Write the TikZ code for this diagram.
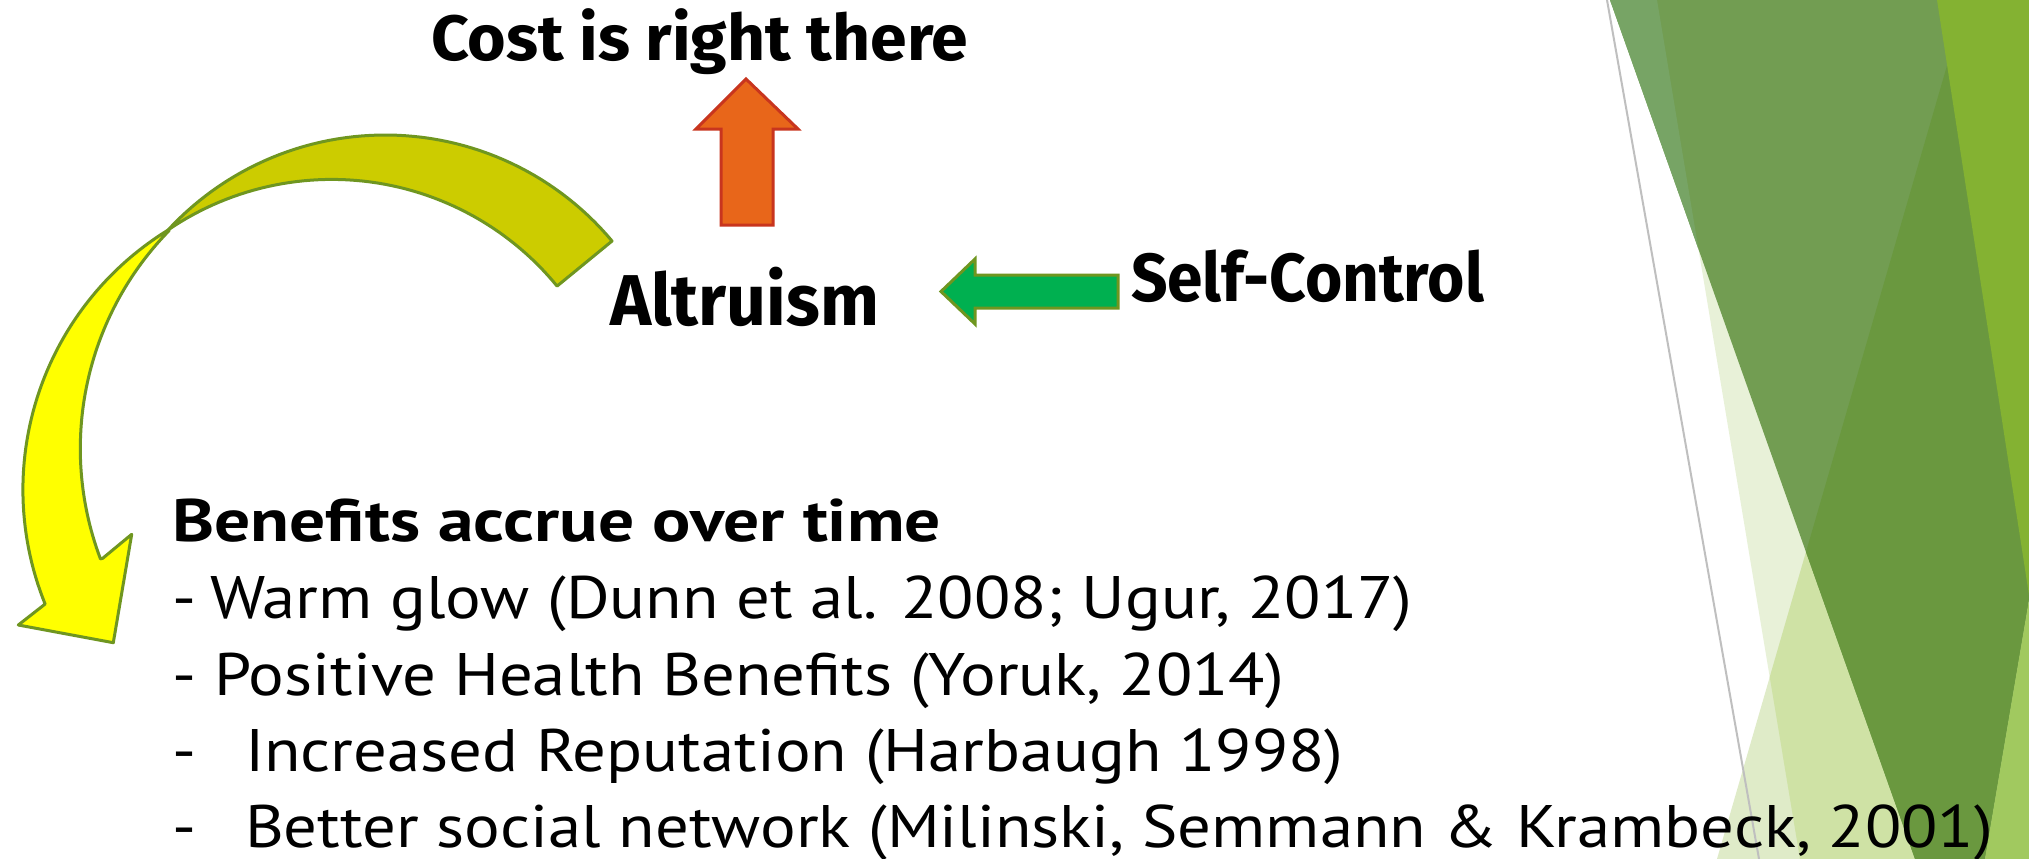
\documentclass[tikz,border=0pt]{standalone}
\usepackage{fontspec}
\setmainfont{PT Sans}
\newfontfamily\labelfont{Fira Sans}

\definecolor{bandolive}{HTML}{CCCC00}
\definecolor{bandyellow}{HTML}{FFFF00}
\definecolor{bandline}{HTML}{6F9620}
\definecolor{costfill}{HTML}{E8661A}
\definecolor{costline}{HTML}{C8351E}
\definecolor{ctrlfill}{HTML}{00B050}
\definecolor{facetpale}{HTML}{E8F1D8}
\definecolor{facetlight}{HTML}{DFEBC8}
\definecolor{facetboth}{HTML}{CFE2A5}
\definecolor{facetmid}{HTML}{729D52}
\definecolor{facettop}{HTML}{77A465}
\definecolor{facetdark}{HTML}{6A983F}
\definecolor{facetbright}{HTML}{84B232}
\definecolor{facetlow}{HTML}{A1C95F}
\definecolor{facetrule}{HTML}{BFBFBF}

\newlength\refwidth
\newcommand\bodysize{\fontsize{60}{72}\selectfont}
\newcommand\bodyline[1]{\scalebox{\bodysx}[1]{\bodysize #1}}

\tikzset{
  txt/.style={inner sep=0pt, outer sep=0pt, anchor=base west, text=black},
  band/.style={draw=bandline, line width=3pt, line join=round},
  block/.style={line width=3pt, line join=miter},
}

\begin{document}
\settowidth\refwidth{\bodysize Better social network (Milinski, Semmann \& Krambeck, 2001)}%
\pgfmathsetmacro\bodysx{1748/\refwidth}%
\begin{tikzpicture}[x=1pt, y=-1pt]
  \useasboundingbox (0,0) rectangle (2029,859);
  \fill[white] (0,0) rectangle (2029,859);

  % facet decoration on the right edge
  \fill[facetpale] (1657,0) -- (1800,859) -- (2029,859) -- (2029,0) -- cycle;
  \fill[facetlight] (1966,0) -- (1717,859) -- (2029,859) -- (2029,0) -- cycle;
  \begin{scope}
    \clip (1657,0) -- (1800,859) -- (2029,859) -- (2029,0) -- cycle;
    \fill[facetboth] (1966,0) -- (1717,859) -- (2029,859) -- (2029,0) -- cycle;
  \end{scope}
  \fill[facetmid] (1610,0) -- (1915,859) -- (1985,859) -- (2029,600) -- (2029,0) -- cycle;
  \begin{scope}
    \clip (1610,0) -- (1915,859) -- (1985,859) -- (2029,600) -- (2029,0) -- cycle;
    \fill[facettop] (0,0) -- (1657,0) -- (1800,859) -- (0,859) -- cycle;
    \fill[facetdark] (1966,0) -- (1717,859) -- (2029,859) -- (2029,0) -- cycle;
  \end{scope}
  \fill[facetbright] (1937,0) -- (2029,595) -- (2029,0) -- cycle;
  \fill[facetlow] (2029,600) -- (1985,859) -- (2029,859) -- cycle;
  \draw[facetrule, line width=2pt] (1607,0) -- (1759,859);

  % curved arrow: darker back band, then the bright front band with its head
  \filldraw[band, fill=bandolive]
    plot[domain=39.9:137.3, samples=60] ({385.2+295.7*cos(\x)}, {430.7-295.7*sin(\x)})
    -- plot[domain=124.3:39.3, samples=60] ({331.9+291*cos(\x)}, {470.4-291*sin(\x)})
    -- cycle;
  \filldraw[band, fill=bandyellow]
    plot[domain=121.6:202, samples=60] ({327.9+305*cos(\x)}, {489.8-305*sin(\x)})
    -- (18.3,625) -- (113.3,642.7) -- (131.7,534.3) -- (102.7,558.3)
    -- plot[domain=200.7:135.7, samples=60] ({392.3+312*cos(\x)}, {448.6-312*sin(\x)})
    -- cycle;

  % straight block arrows
  \filldraw[block, fill=costfill, draw=costline]
    (746,79) -- (798,129) -- (773,129) -- (773,225) -- (721,225) -- (721,129) -- (696,129) -- cycle;
  \filldraw[block, fill=ctrlfill, draw=bandline]
    (941,291.5) -- (975,259) -- (975,275) -- (1118,275) -- (1118,308) -- (975,308) -- (975,324) -- cycle;

  % labels
  \node[txt] (cost) at (431,61)
    {\resizebox{537pt}{\height}{\labelfont\bfseries\fontsize{64}{70}\selectfont Cost is right there}};
  \node[txt] (altruism) at (610,325)
    {\resizebox{269pt}{\height}{\labelfont\bfseries\fontsize{72}{80}\selectfont Altruism}};
  \node[txt] (selfcontrol) at (1131,301)
    {\resizebox{353pt}{\height}{\labelfont\bfseries\fontsize{68}{76}\selectfont Self-Control}};

  % list of benefits
  \node[txt] (benefits) at (172,541)
    {\resizebox{769pt}{\height}{\bodysize\bfseries Benefits accrue over time}};
  \node[txt] (dashA) at (172,618) {\bodyline{-}};
  \node[txt] (warm) at (210,618) {\bodyline{Warm glow (Dunn et al. 2008; Ugur, 2017)}};
  \node[txt] (dashB) at (172,695) {\bodyline{-}};
  \node[txt] (health) at (214,695) {\bodyline{Positive Health Benefits (Yoruk, 2014)}};
  \node[txt] (dashC) at (172,771) {\bodyline{-}};
  \node[txt] (reputation) at (245,771) {\bodyline{Increased Reputation (Harbaugh 1998)}};
  \node[txt] (dashD) at (172,847) {\bodyline{-}};
  \node[txt] (network) at (245,847) {\bodyline{Better social network (Milinski, Semmann \& Krambeck, 2001)}};
\end{tikzpicture}
\end{document}
